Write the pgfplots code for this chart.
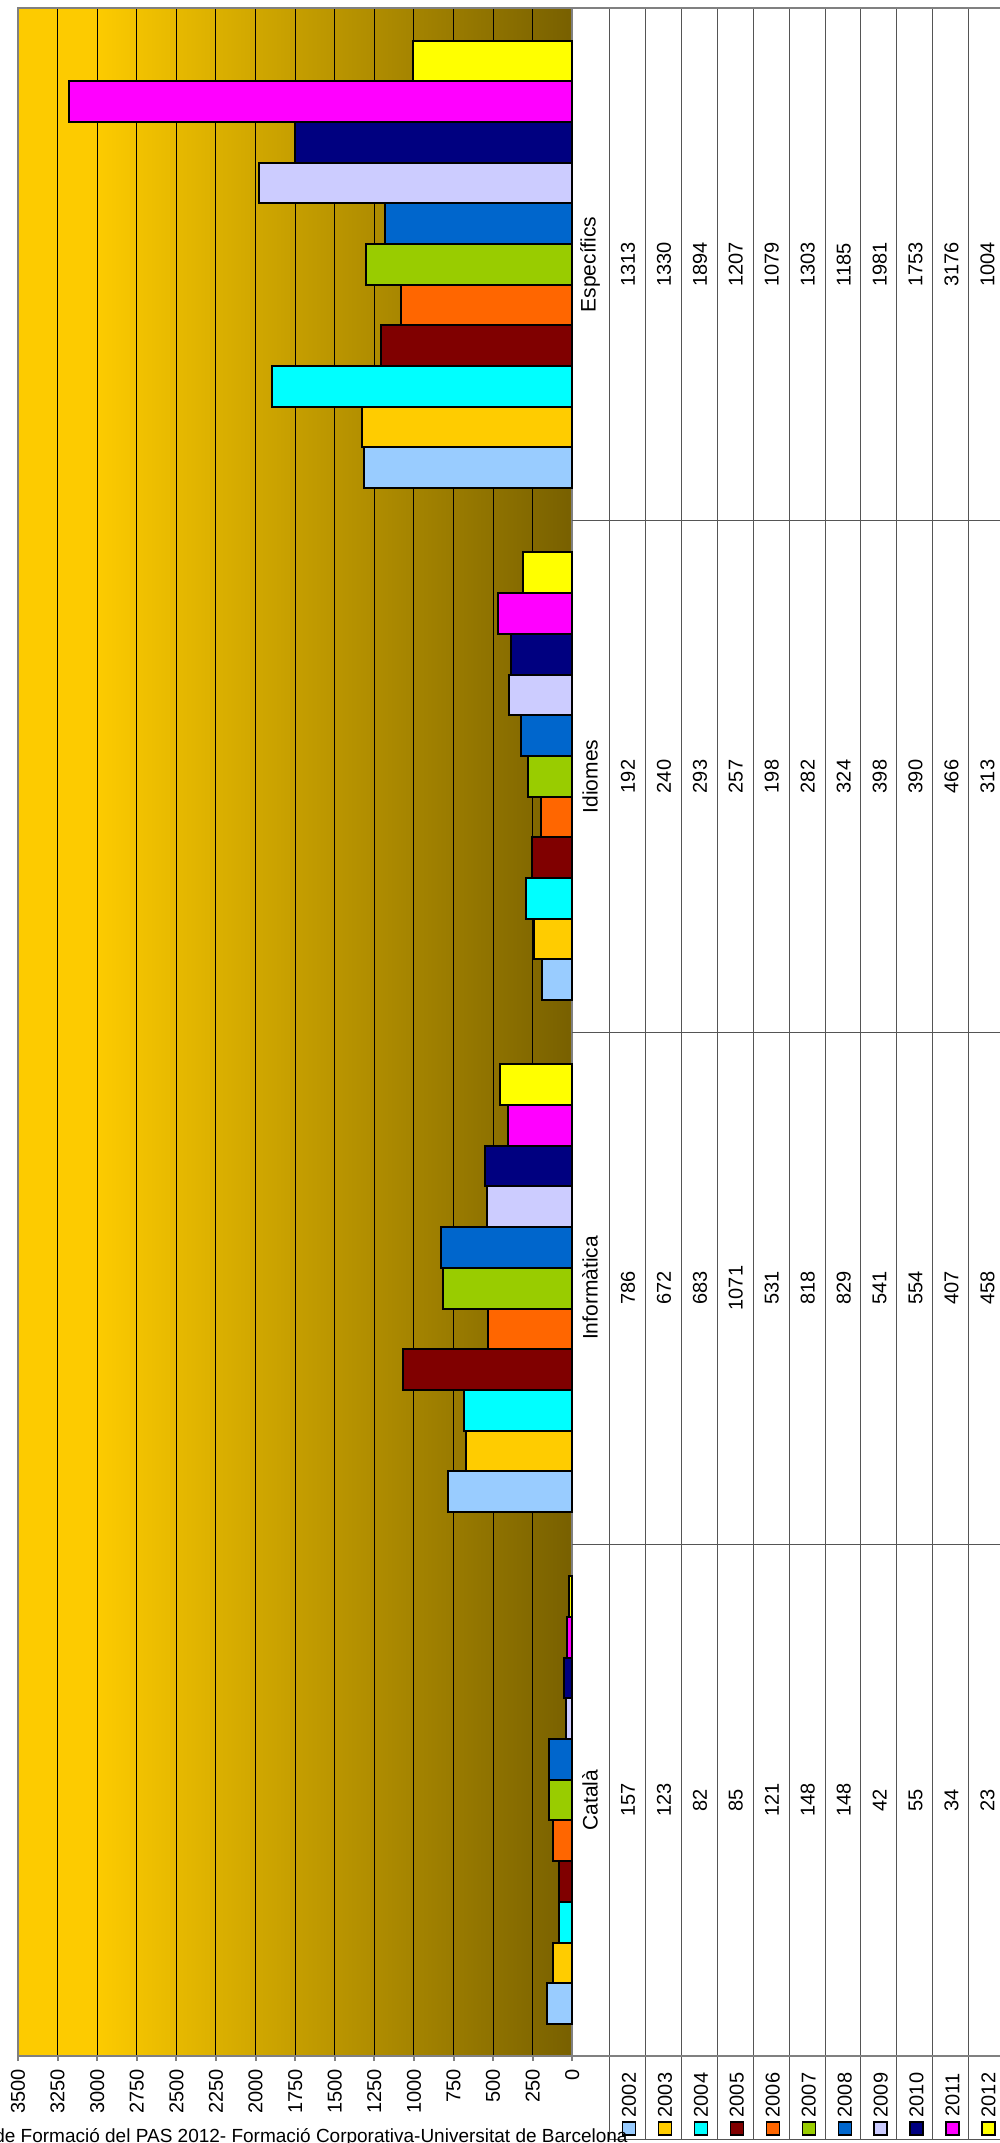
\documentclass[border=0pt]{standalone}
\usepackage{fontspec}
\setmainfont{Liberation Sans}
\usepackage{pgfplots}
\usepackage{pgfplotstable}
\pgfplotsset{compat=1.18}

\definecolor{c2002}{HTML}{99CCFF}
\definecolor{c2003}{HTML}{FFCC00}
\definecolor{c2004}{HTML}{00FFFF}
\definecolor{c2005}{HTML}{800000}
\definecolor{c2006}{HTML}{FF6600}
\definecolor{c2007}{HTML}{99CC00}
\definecolor{c2008}{HTML}{0066CC}
\definecolor{c2009}{HTML}{CCCCFF}
\definecolor{c2010}{HTML}{000080}
\definecolor{c2011}{HTML}{FF00FF}
\definecolor{c2012}{HTML}{FFFF00}
\definecolor{bgL}{HTML}{FDCB00}
\definecolor{bgR}{HTML}{786000}
\definecolor{tline}{HTML}{555555}

\pgfdeclarehorizontalshading{plotbg}{100bp}{color(0bp)=(bgL); color(32bp)=(bgL); color(75bp)=(bgR); color(100bp)=(bgR)}

\pgfplotstableread{
cat y2002 y2003 y2004 y2005 y2006 y2007 y2008 y2009 y2010 y2011 y2012
0 157 123 82 85 121 148 148 42 55 34 23
1 786 672 683 1071 531 818 829 541 554 407 458
2 192 240 293 257 198 282 324 398 390 466 313
3 1313 1330 1894 1207 1079 1303 1185 1981 1753 3176 1004
}\datatable

\begin{document}
\begin{tikzpicture}
\begin{axis}[
  at={(9pt,-1028pt)}, anchor=south west,
  scale only axis, width=277.15pt, height=1023.85pt,
  xbar, bar width=0.0795,
  x dir=reverse,
  xmin=0, xmax=3500, ymin=-0.5, ymax=3.5,
  enlargelimits=false,
  xtick={0,250,...,3500}, ytick=\empty,
  xtick pos=lower, tick align=outside, major tick length=2.5pt,
  every tick/.style={gray, line width=1pt},
  xmajorgrids, major grid style={black, line width=0.5pt},
  axis line style={draw=gray, line width=1pt},
  xticklabel style={rotate=90, anchor=east, font=\fontsize{10}{12}\selectfont, inner sep=0pt},
  xticklabel shift=4pt,
  /pgf/number format/assume math mode=true, /pgf/number format/1000 sep={},
  axis background/.style={shade, shading=plotbg},
  clip=false,
  every axis plot/.append style={draw=black, line width=1pt},
]
\addplot[fill=c2002, bar shift=-0.3975] table[x=y2002,y=cat]{\datatable};
\addplot[fill=c2003, bar shift=-0.318] table[x=y2003,y=cat]{\datatable};
\addplot[fill=c2004, bar shift=-0.2385] table[x=y2004,y=cat]{\datatable};
\addplot[fill=c2005, bar shift=-0.159] table[x=y2005,y=cat]{\datatable};
\addplot[fill=c2006, bar shift=-0.0795] table[x=y2006,y=cat]{\datatable};
\addplot[fill=c2007, bar shift=0] table[x=y2007,y=cat]{\datatable};
\addplot[fill=c2008, bar shift=0.0795] table[x=y2008,y=cat]{\datatable};
\addplot[fill=c2009, bar shift=0.159] table[x=y2009,y=cat]{\datatable};
\addplot[fill=c2010, bar shift=0.2385] table[x=y2010,y=cat]{\datatable};
\addplot[fill=c2011, bar shift=0.318] table[x=y2011,y=cat]{\datatable};
\addplot[fill=c2012, bar shift=0.3975] table[x=y2012,y=cat]{\datatable};
\end{axis}

\begin{scope}[x=0.5pt, y=-0.5pt]
  % table grid
  \foreach \k in {0,...,11} {
    \draw[tline, line width=0.5pt] ({609.3+35.95*\k},8.3) -- ({609.3+35.95*\k},2139);
  }
  \foreach \yy in {520.7,1032.3,1544} {
    \draw[tline, line width=0.5pt] (572.3,\yy) -- (1010,\yy);
  }
  \draw[gray, line width=1pt] (572.3,8.3) -- (1010,8.3);
  \draw[gray, line width=1pt] (572.3,2056) -- (1010,2056);
  \draw[tline, line width=0.5pt] (609.3,2139) -- (1010,2139);
  % category names
  \node[rotate=90, font=\fontsize{10.5}{12}\selectfont] at (590,1800) {Català};
  \node[rotate=90, font=\fontsize{10.5}{12}\selectfont] at (590,1288) {Informàtica};
  \node[rotate=90, font=\fontsize{10.5}{12}\selectfont] at (590,776.5) {Idiomes};
  \node[rotate=90, font=\fontsize{10.5}{12}\selectfont] at (590,264.5) {Específics};
  % values
  \foreach \k/\a/\b/\c/\d in {0/157/786/192/1313, 1/123/672/240/1330, 2/82/683/293/1894,
      3/85/1071/257/1207, 4/121/531/198/1079, 5/148/818/282/1303, 6/148/829/324/1185,
      7/42/541/398/1981, 8/55/554/390/1753, 9/34/407/466/3176, 10/23/458/313/1004} {
    \node[rotate=90, font=\fontsize{10}{12}\selectfont] at ({628+35.95*\k},1800) {\a};
    \node[rotate=90, font=\fontsize{10}{12}\selectfont] at ({628+35.95*\k},1288) {\b};
    \node[rotate=90, font=\fontsize{10}{12}\selectfont] at ({628+35.95*\k},776.5) {\c};
    \node[rotate=90, font=\fontsize{10}{12}\selectfont] at ({628+35.95*\k},264.5) {\d};
  }
  % legend keys
  \foreach \k/\col in {0/c2002,1/c2003,2/c2004,3/c2005,4/c2006,5/c2007,6/c2008,7/c2009,8/c2010,9/c2011,10/c2012} {
    \pgfmathtruncatemacro{\yr}{2002+\k}
    \node[rotate=90, font=\fontsize{10}{12}\selectfont] at ({629+35.95*\k},2095) {\yr};
    \draw[fill=\col, draw=black, line width=0.7pt] ({622.5+35.95*\k},2122) rectangle ({635.5+35.95*\k},2135);
  }
  % footer
  \node[anchor=base east, font=\fontsize{9.5}{11}\selectfont, inner sep=0pt] at (628,2142) {Font: Memòria de Formació del PAS 2012- Formació Corporativa-Universitat de Barcelona};
  \pgfresetboundingbox
  \path[use as bounding box] (0,0) rectangle (1000,2143);
\end{scope}
\end{tikzpicture}
\end{document}
